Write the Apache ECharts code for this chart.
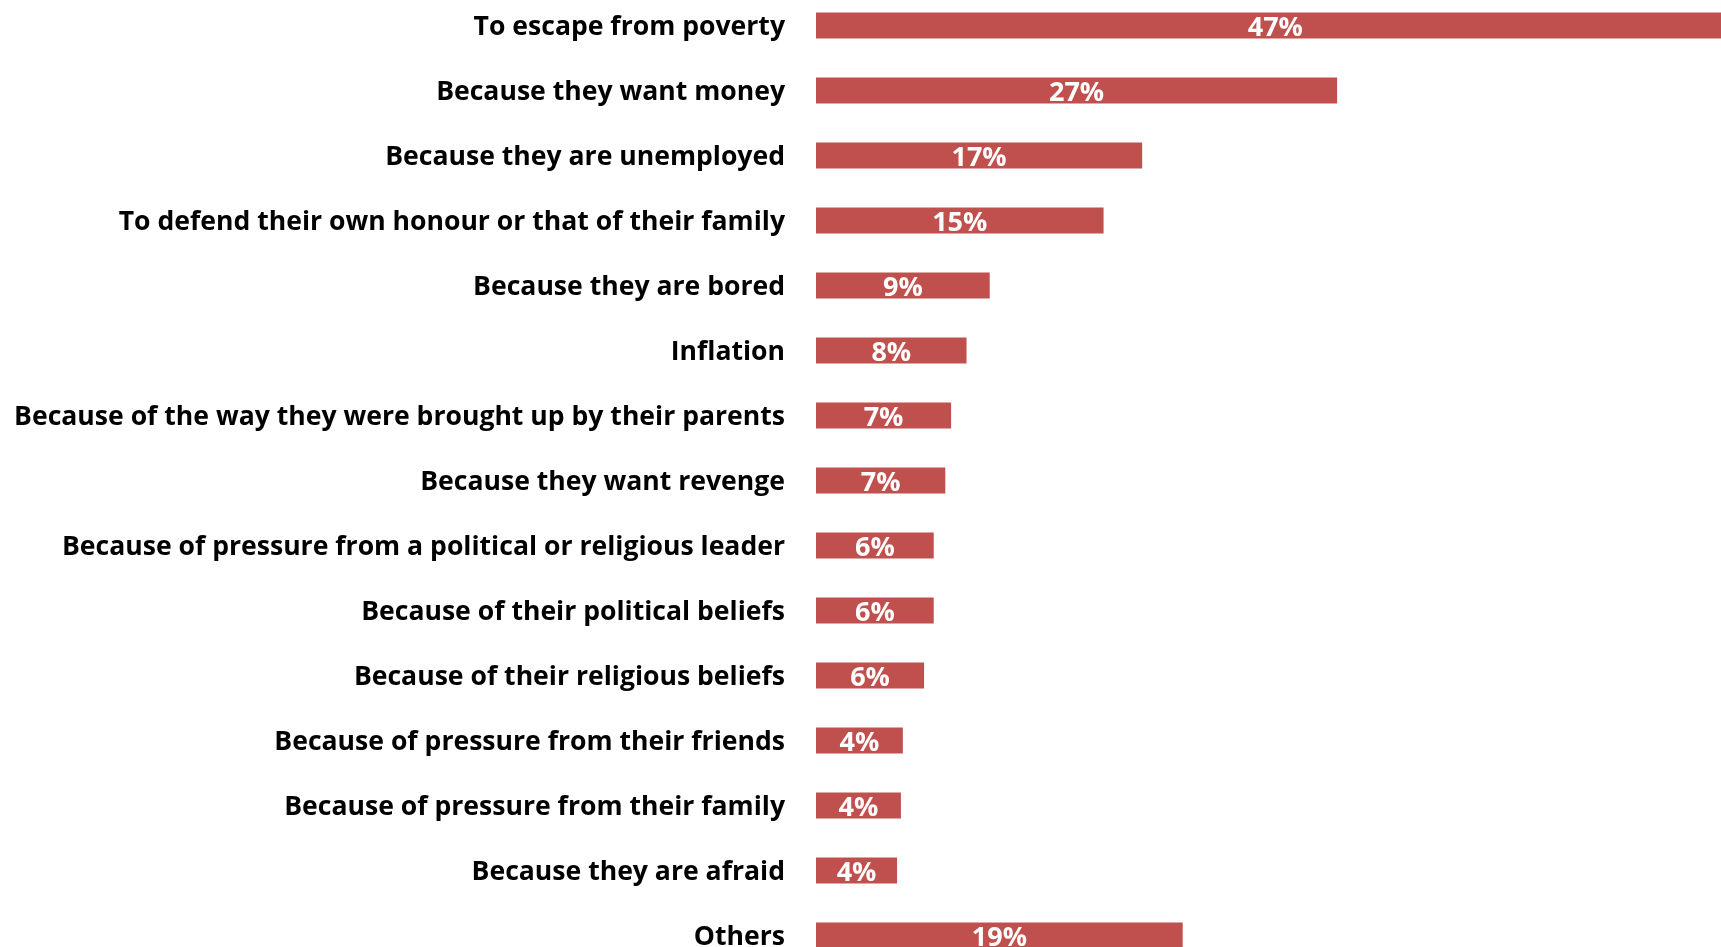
<!DOCTYPE html>
<html>
<head>
<meta charset="utf-8">
<script src="https://cdn.jsdelivr.net/npm/echarts@6/dist/echarts.min.js"></script>
<style>
html,body{margin:0;padding:0;background:#fff;overflow:hidden;}
#chart{width:1721px;height:947px;}
</style>
</head>
<body>
<div id="chart"></div>
<script>
const categories = [
  "To escape from poverty",
  "Because they want money",
  "Because they are unemployed",
  "To defend their own honour or that of their family",
  "Because they are bored",
  "Inflation",
  "Because of the way they were brought up by their parents",
  "Because they want revenge",
  "Because of pressure from a political or religious leader",
  "Because of their political beliefs",
  "Because of their religious beliefs",
  "Because of pressure from their friends",
  "Because of pressure from their family",
  "Because they are afraid",
  "Others"
];
const values = [47.6, 27.0, 16.9, 14.9, 9.0, 7.8, 7.0, 6.7, 6.1, 6.1, 5.6, 4.5, 4.4, 4.2, 19.0];
const valueLabels = ["47%", "27%", "17%", "15%", "9%", "8%", "7%", "7%", "6%", "6%", "6%", "4%", "4%", "4%", "19%"];

const FONT = '"Open Sans"';
// fit category label font size so the longest label spans ~771px like the reference
const cv = document.createElement('canvas').getContext('2d');
cv.font = 'bold 100px ' + FONT;
let maxW = 0;
categories.forEach(c => { maxW = Math.max(maxW, cv.measureText(c).width); });
const catFontSize = Math.max(18, Math.min(32, 100 * 771 / maxW));

const chart = echarts.init(document.getElementById('chart'), null, {renderer: 'canvas'});
chart.setOption({
  animation: false,
  backgroundColor: '#ffffff',
  grid: {left: 816, top: -7, width: 965, height: 975, containLabel: false, outerBoundsMode: 'none'},
  xAxis: {
    type: 'value', min: 0, max: 50, show: false,
    splitLine: {show: false}
  },
  yAxis: {
    type: 'category', data: categories, inverse: true,
    axisLine: {show: false}, axisTick: {show: false},
    axisLabel: {
      margin: 31, color: '#000000', fontFamily: FONT, fontWeight: 'bold',
      fontSize: catFontSize, verticalAlign: 'top', lineHeight: 4
    }
  },
  series: [{
    type: 'bar',
    data: values,
    barWidth: 26,
    itemStyle: {color: '#C0504D'},
    label: {
      show: true, position: 'inside', color: '#ffffff',
      fontFamily: FONT, fontWeight: 'bold', fontSize: 27,
      offset: [0, 3],
      formatter: p => valueLabels[p.dataIndex]
    }
  }]
});
</script>
</body>
</html>
